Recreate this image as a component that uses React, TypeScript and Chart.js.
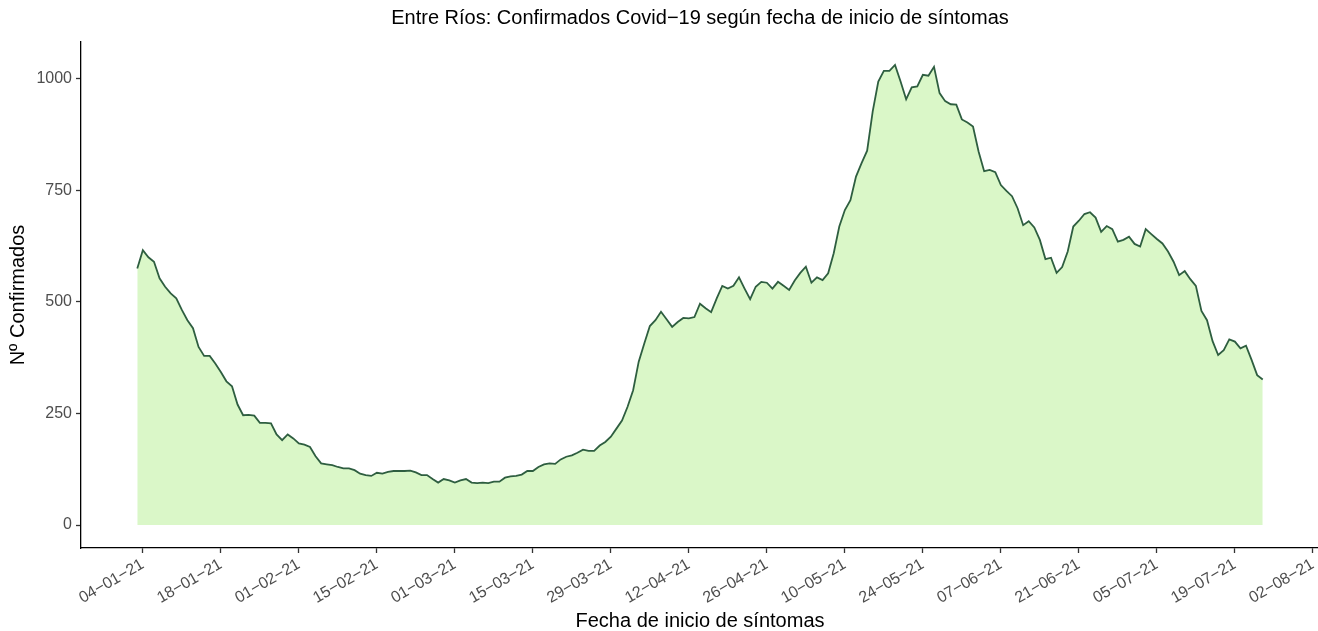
import React, { useEffect, useRef } from 'react';
import { Chart, registerables } from 'chart.js';

Chart.register(...registerables);

const TITLE = 'Entre Ríos: Confirmados Covid−19 según fecha de inicio de síntomas';
const X_TITLE = 'Fecha de inicio de síntomas';
const Y_TITLE = 'Nº Confirmados';

// Daily confirmed cases by symptom-onset date, starting 03-01-21 (day 0) to 24-07-21 (day 202)
const confirmados = [
  575, 616, 600, 590, 553, 534, 519, 508, 482, 459,
  441, 399, 379, 379, 362, 343, 322, 311, 270, 246,
  247, 245, 229, 229, 228, 203, 190, 203, 194, 183,
  180, 175, 154, 138, 136, 134, 130, 127, 127, 123,
  115, 112, 110, 117, 115, 119, 121, 121, 121, 122,
  118, 112, 112, 103, 95, 103, 100, 95, 100, 103,
  95, 94, 95, 94, 97, 97, 106, 109, 110, 113,
  121, 121, 130, 136, 138, 137, 147, 153, 156, 162,
  169, 166, 166, 178, 186, 198, 216, 234, 265, 302,
  366, 407, 446, 459, 478, 461, 444, 455, 464, 463,
  466, 496, 486, 477, 508, 536, 530, 536, 555, 530,
  506, 534, 545, 543, 530, 545, 536, 527, 548, 565,
  579, 543, 555, 549, 564, 609, 669, 706, 728, 781,
  811, 839, 927, 994, 1018, 1018, 1031, 994, 954, 981,
  983, 1009, 1007, 1027, 968, 950, 943, 942, 909, 902,
  893, 837, 793, 796, 791, 762, 749, 737, 710, 672,
  681, 667, 639, 596, 599, 565, 578, 613, 669, 682,
  697, 701, 689, 657, 670, 663, 635, 639, 646, 630,
  624, 663, 652, 641, 631, 613, 590, 560, 569, 551,
  536, 480, 459, 412, 381, 392, 416, 411, 396, 402,
  370, 336, 326,
];

// x tick positions (days since 03-01-21) and their labels
const xTickDays = [1, 15, 29, 43, 57, 71, 85, 99, 113, 127, 141, 155, 169, 183, 197, 211];
const xTickLabels = [
  '04−01−21', '18−01−21', '01−02−21', '15−02−21', '01−03−21', '15−03−21',
  '29−03−21', '12−04−21', '26−04−21', '10−05−21', '24−05−21', '07−06−21',
  '21−06−21', '05−07−21', '19−07−21', '02−08−21',
];
const yTickValues = [0, 250, 500, 750, 1000];

const FONT = '"Liberation Sans", Arial, Helvetica, sans-serif';

export default function App() {
  const ref = useRef<HTMLCanvasElement>(null);

  useEffect(() => {
    const canvas = ref.current;
    if (!canvas) return;
    const n = confirmados.length;
    const yMax = Math.max(...confirmados);
    const chart = new Chart(canvas, {
      type: 'line',
      data: {
        datasets: [
          {
            data: confirmados.map((v, i) => ({ x: i, y: v })),
            borderColor: '#2E5E40',
            backgroundColor: '#DAF7C8',
            borderWidth: 1.8,
            pointRadius: 0,
            fill: 'origin',
            tension: 0,
          },
        ],
      },
      options: {
        animation: false,
        responsive: false,
        maintainAspectRatio: false,
        layout: { padding: { left: 0, top: 0, right: 21, bottom: 0 } },
        plugins: {
          legend: { display: false },
          tooltip: { enabled: false },
          title: {
            display: true,
            text: TITLE,
            fullSize: false,
            align: 'center',
            color: '#000',
            font: { family: FONT, size: 20, weight: 'normal', lineHeight: 1 },
            padding: { top: 8, bottom: 14 },
          },
        },
        scales: {
          x: {
            type: 'linear',
            min: -0.05 * (n - 1),
            max: 1.05 * (n - 1),
            afterBuildTicks: (s: any) => {
              s.ticks = xTickDays.map((v) => ({ value: v }));
            },
            afterFit: (s: any) => {
              s.height = 83;
            },
            grid: {
              display: true,
              drawOnChartArea: false,
              drawTicks: true,
              tickLength: 5,
              tickColor: '#333',
              tickWidth: 1.3,
            },
            border: { display: true, color: '#000', width: 1.3 },
            ticks: {
              autoSkip: false,
              minRotation: 30,
              maxRotation: 30,
              padding: 2,
              color: '#4D4D4D',
              font: { family: FONT, size: 16 },
              callback: (v: any) => {
                const idx = xTickDays.indexOf(Number(v));
                return idx >= 0 ? xTickLabels[idx] : '';
              },
            },
            title: {
              display: true,
              text: X_TITLE,
              color: '#000',
              font: { family: FONT, size: 20, lineHeight: 1 },
              padding: { top: 0, bottom: 0 },
            },
          },
          y: {
            type: 'linear',
            min: -0.05 * yMax,
            max: 1.05 * yMax,
            afterBuildTicks: (s: any) => {
              s.ticks = yTickValues.map((v) => ({ value: v }));
            },
            afterFit: (s: any) => {
              s.width = 81;
            },
            grid: {
              display: true,
              drawOnChartArea: false,
              drawTicks: true,
              tickLength: 5,
              tickColor: '#333',
              tickWidth: 1.3,
            },
            border: { display: true, color: '#000', width: 1.3 },
            ticks: {
              padding: 4,
              color: '#4D4D4D',
              font: { family: FONT, size: 16 },
              callback: (v: any) => String(v),
            },
            title: {
              display: true,
              text: Y_TITLE,
              color: '#000',
              font: { family: FONT, size: 20, lineHeight: 1 },
              padding: { top: 8, bottom: 0 },
            },
          },
        },
      },
    });
    return () => chart.destroy();
  }, []);

  return (
    <div
      style={{
        position: 'fixed',
        left: 0,
        top: 0,
        width: 1318,
        height: 631,
        overflow: 'hidden',
        background: '#fff',
      }}
    >
      <canvas ref={ref} width={1340} height={631} style={{ display: 'block' }} />
    </div>
  );
}
